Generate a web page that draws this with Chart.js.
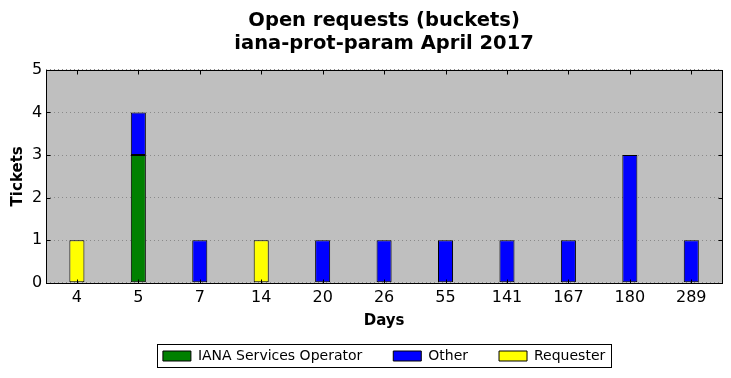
<!DOCTYPE html>
<html>
<head>
<meta charset="utf-8">
<script src="https://cdn.jsdelivr.net/npm/chart.js@4"></script>
<style>
body { margin: 0; background: #fff; }
#wrap { width: 731px; height: 378px; }
</style>
</head>
<body>
<div id="wrap"><canvas id="bucketChart" width="731" height="378"></canvas></div>
<script>
// Data
var days = ['4', '5', '7', '14', '20', '26', '55', '141', '167', '180', '289'];
var ianaOperator = [null, 3, null, null, null, null, null, null, null, null, null];
var other = [null, 1, 1, null, 1, 1, 1, 1, 1, 3, 1];
var requester = [1, null, null, 1, null, null, null, null, null, null, null];
var yTicks = [0, 1, 2, 3, 4, 5];

Chart.defaults.font.family = "'DejaVu Sans', sans-serif";
Chart.defaults.color = '#000';

function px(v) { return Math.round(v) + 0.5; }

// gray plot background, black frame, inward tick marks, legend box
var mplLook = {
    id: 'mplLook',
    beforeDraw: function(chart) {
        var a = chart.chartArea;
        var ctx = chart.ctx;
        ctx.save();
        ctx.fillStyle = '#bfbfbf';
        ctx.fillRect(a.left, a.top, a.right - a.left, a.bottom - a.top);
        ctx.restore();
    },
    afterDatasetsDraw: function(chart) {
        var a = chart.chartArea;
        var ctx = chart.ctx;
        var xs = chart.scales.x, ys = chart.scales.y;
        var L = px(a.left), R = px(a.right), T = px(a.top), B = px(a.bottom);
        ctx.save();
        ctx.strokeStyle = '#000';
        ctx.lineWidth = 1;
        ctx.beginPath();
        yTicks.forEach(function(v) {
            var y = px(ys.getPixelForValue(v));
            ctx.moveTo(L, y); ctx.lineTo(L + 4, y);
            ctx.moveTo(R, y); ctx.lineTo(R - 4, y);
        });
        days.forEach(function(d, i) {
            var x = px(xs.getPixelForValue(i));
            ctx.moveTo(x, B); ctx.lineTo(x, B - 4);
            ctx.moveTo(x, T); ctx.lineTo(x, T + 4);
        });
        ctx.stroke();
        ctx.strokeRect(L, T, R - L, B - T);
        ctx.restore();
    },
    afterDraw: function(chart) {
        var boxes = chart.legend.legendHitBoxes;
        if (!boxes || !boxes.length) return;
        var minX = Infinity, maxX = -Infinity, minY = Infinity, maxY = -Infinity;
        boxes.forEach(function(b) {
            minX = Math.min(minX, b.left);
            maxX = Math.max(maxX, b.left + b.width);
            minY = Math.min(minY, b.top);
            maxY = Math.max(maxY, b.top + b.height);
        });
        var ctx = chart.ctx;
        ctx.save();
        ctx.strokeStyle = '#000';
        ctx.lineWidth = 1;
        ctx.strokeRect(px(minX - 6), px(minY - 5), Math.round(maxX - minX + 12), Math.round(maxY - minY + 9));
        ctx.restore();
    }
};

var ctx = document.getElementById('bucketChart').getContext('2d');

var bucketChart = new Chart(ctx, {
    type: 'bar',
    data: {
        labels: days,
        datasets: [
            { label: 'IANA Services Operator', data: ianaOperator, backgroundColor: '#008000', borderColor: '#000', borderWidth: 1 },
            { label: 'Other', data: other, backgroundColor: '#0000ff', borderColor: '#000', borderWidth: 1 },
            { label: 'Requester', data: requester, backgroundColor: '#ffff00', borderColor: '#000', borderWidth: 1 }
        ]
    },
    options: {
        responsive: false,
        animation: false,
        layout: { padding: { left: 5, right: 9, top: 0, bottom: 5 } },
        datasets: {
            bar: { categoryPercentage: 1, barPercentage: 0.245, borderSkipped: false }
        },
        scales: {
            x: {
                stacked: true,
                grid: { display: false, drawTicks: false },
                border: { display: false },
                ticks: { font: { size: 16 }, padding: 5, maxRotation: 0 },
                title: { display: true, text: 'Days', font: { size: 15, weight: 'bold' }, padding: { top: 0, bottom: -12 } }
            },
            y: {
                stacked: true,
                min: 0,
                max: 5,
                ticks: { stepSize: 1, font: { size: 16 }, padding: 4 },
                grid: { color: '#8a8a8a', lineWidth: 1, drawTicks: false },
                border: { display: false, dash: [1, 3] },
                title: { display: true, text: 'Tickets', font: { size: 15, weight: 'bold' }, padding: { top: 4, bottom: 1 } }
            }
        },
        plugins: {
            title: {
                display: true,
                fullSize: false,
                text: ['Open requests (buckets)', 'iana-prot-param April 2017'],
                font: { size: 19.5, weight: 'bold', lineHeight: 1.15 },
                padding: { top: 10, bottom: 15 }
            },
            legend: {
                position: 'bottom',
                fullSize: false,
                labels: { boxWidth: 28, boxHeight: 10, padding: 31, font: { size: 14 } }
            },
            tooltip: { enabled: false }
        }
    },
    plugins: [mplLook]
});
</script>
</body>
</html>
